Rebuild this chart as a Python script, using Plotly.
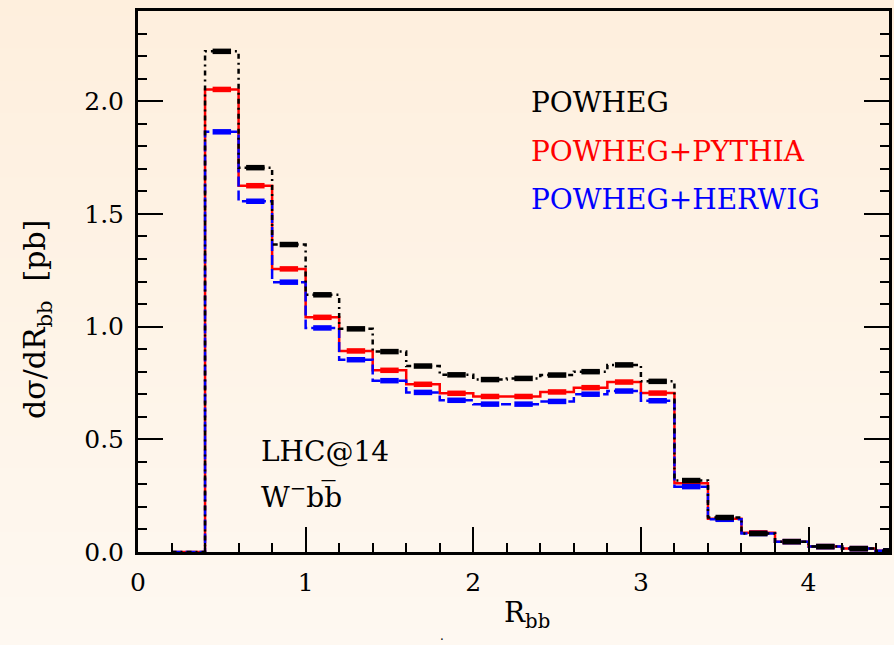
import plotly.graph_objects as go

# Histogram bins in R_bb (lower edges, width 0.2) and d(sigma)/dR_bb values in pb
bin_lo = [0.2, 0.4, 0.6, 0.8, 1.0, 1.2, 1.4, 1.6, 1.8, 2.0, 2.2,
          2.4, 2.6, 2.8, 3.0, 3.2, 3.4, 3.6, 3.8, 4.0, 4.2, 4.4]
bin_width = 0.2

powheg = [0.0, 2.221, 1.705, 1.364, 1.141, 0.990, 0.889, 0.825, 0.786, 0.765, 0.770,
          0.785, 0.800, 0.830, 0.757, 0.317, 0.153, 0.082, 0.046, 0.024, 0.015, 0.005]
powheg_pythia = [0.0, 2.052, 1.625, 1.256, 1.041, 0.892, 0.806, 0.744, 0.704, 0.690, 0.690,
                 0.710, 0.729, 0.754, 0.705, 0.305, 0.148, 0.085, 0.046, 0.024, 0.015, 0.005]
powheg_herwig = [0.0, 1.864, 1.556, 1.197, 0.994, 0.853, 0.760, 0.708, 0.673, 0.656, 0.656,
                 0.668, 0.700, 0.714, 0.671, 0.290, 0.145, 0.082, 0.046, 0.024, 0.015, 0.005]

x_ticks = [0, 1, 2, 3, 4]
y_ticks = [0.0, 0.5, 1.0, 1.5, 2.0]

series = [
    ("POWHEG+PYTHIA", powheg_pythia, "#ff0000", "solid"),
    ("POWHEG+HERWIG", powheg_herwig, "#0000ff", "10px,4px"),
    ("POWHEG", powheg, "#000000", "5px,4px,2px,4px"),
]

SERIF = "DejaVu Serif, serif"

fig = go.Figure()

edges = bin_lo + [bin_lo[-1] + bin_width]
for name, vals, color, dash in series:
    # step outline of the histogram
    fig.add_trace(go.Scatter(
        x=edges, y=vals + [vals[-1]], mode="lines", name=name,
        line=dict(color=color, width=2.5, dash=dash, shape="hv"),
        showlegend=False, hoverinfo="skip", cliponaxis=True,
    ))
    # thick bar at the centre of each bin
    bx, by = [], []
    for lo, v in zip(bin_lo, vals):
        if v <= 0:
            continue
        c = lo + bin_width / 2
        bx += [c - 0.055, c + 0.055, None]
        by += [v, v, None]
    fig.add_trace(go.Scatter(
        x=bx, y=by, mode="lines", line=dict(color=color, width=5.5),
        showlegend=False, hoverinfo="skip",
    ))

# warm vertical background gradient
n_bands = 40
top_rgb = (254, 239, 221)
bot_rgb = (254, 248, 241)
y_lo, y_hi = -93 / 541, 1 + 11 / 541
for i in range(n_bands):
    t = i / (n_bands - 1)
    r = round(bot_rgb[0] + (top_rgb[0] - bot_rgb[0]) * t)
    g = round(bot_rgb[1] + (top_rgb[1] - bot_rgb[1]) * t)
    b = round(bot_rgb[2] + (top_rgb[2] - bot_rgb[2]) * t)
    y0 = y_lo + (y_hi - y_lo) * i / n_bands
    y1 = y_lo + (y_hi - y_lo) * (i + 1) / n_bands + 0.002
    fig.add_shape(type="rect", xref="paper", yref="paper",
                  x0=-0.3, x1=1.1, y0=y0, y1=y1, layer="below",
                  line=dict(width=0), fillcolor=f"rgb({r},{g},{b})")

# series labels
label_rows = [("POWHEG", "#000000", 1.995),
              ("POWHEG+PYTHIA", "#ff0000", 1.778),
              ("POWHEG+HERWIG", "#0000ff", 1.564)]
for text, color, yv in label_rows:
    fig.add_annotation(x=2.33, y=yv, xref="x", yref="y", text=text,
                       showarrow=False, xanchor="left", yanchor="middle",
                       font=dict(family=SERIF, size=28, color=color))

fig.add_annotation(x=0.72, y=0.444, xref="x", yref="y", text="LHC@14",
                   showarrow=False, xanchor="left", yanchor="middle",
                   font=dict(family=SERIF, size=28, color="black"))
fig.add_annotation(x=0.72, y=0.25, xref="x", yref="y",
                   text="W<sup>\u2212</sup>b\u0062\u0305",
                   showarrow=False, xanchor="left", yanchor="middle",
                   font=dict(family=SERIF, size=28, color="black"))

# axis titles
fig.add_annotation(x=0.518, y=-0.115, xref="paper", yref="paper",
                   text="R<sub>bb</sub>", showarrow=False,
                   xanchor="center", yanchor="middle",
                   font=dict(family=SERIF, size=28, color="black"))
fig.add_annotation(x=-0.135, y=0.43, xref="paper", yref="paper",
                   text="d\u03c3/dR<sub>bb</sub>  [pb]", showarrow=False,
                   textangle=-90, xanchor="center", yanchor="middle",
                   font=dict(family=SERIF, size=30, color="black"))
# small mark below the axis title
fig.add_annotation(x=0.405, y=-0.1715, xref="paper", yref="paper",
                   text=".", showarrow=False,
                   xanchor="center", yanchor="bottom",
                   font=dict(family=SERIF, size=12, color="black"))

axis_common = dict(
    showline=True, linecolor="black", linewidth=3,
    ticks="inside", ticklen=25, tickwidth=2, tickcolor="black",
    showgrid=False, zeroline=False,
    tickfont=dict(family=SERIF, size=25, color="black"),
)

fig.update_xaxes(
    range=[0, 4.48], tickvals=x_ticks, ticktext=[str(v) for v in x_ticks],
    mirror=True, ticklabelstandoff=6,
    minor=dict(dtick=0.2, tick0=0, ticks="inside", ticklen=9,
               tickwidth=2, tickcolor="black"),
    **axis_common,
)
fig.update_yaxes(
    range=[0, 2.4], tickvals=y_ticks, ticktext=[f"{v:.1f}" for v in y_ticks],
    mirror="ticks", ticklabelstandoff=6,
    minor=dict(dtick=0.1, tick0=0, ticks="inside", ticklen=9,
               tickwidth=2, tickcolor="black"),
    **axis_common,
)

fig.update_layout(
    width=894, height=645,
    margin=dict(l=138, r=2, t=11, b=93),
    paper_bgcolor="rgb(254,244,231)",
    plot_bgcolor="rgba(0,0,0,0)",
    showlegend=False,
)

fig.write_html("out.html")
